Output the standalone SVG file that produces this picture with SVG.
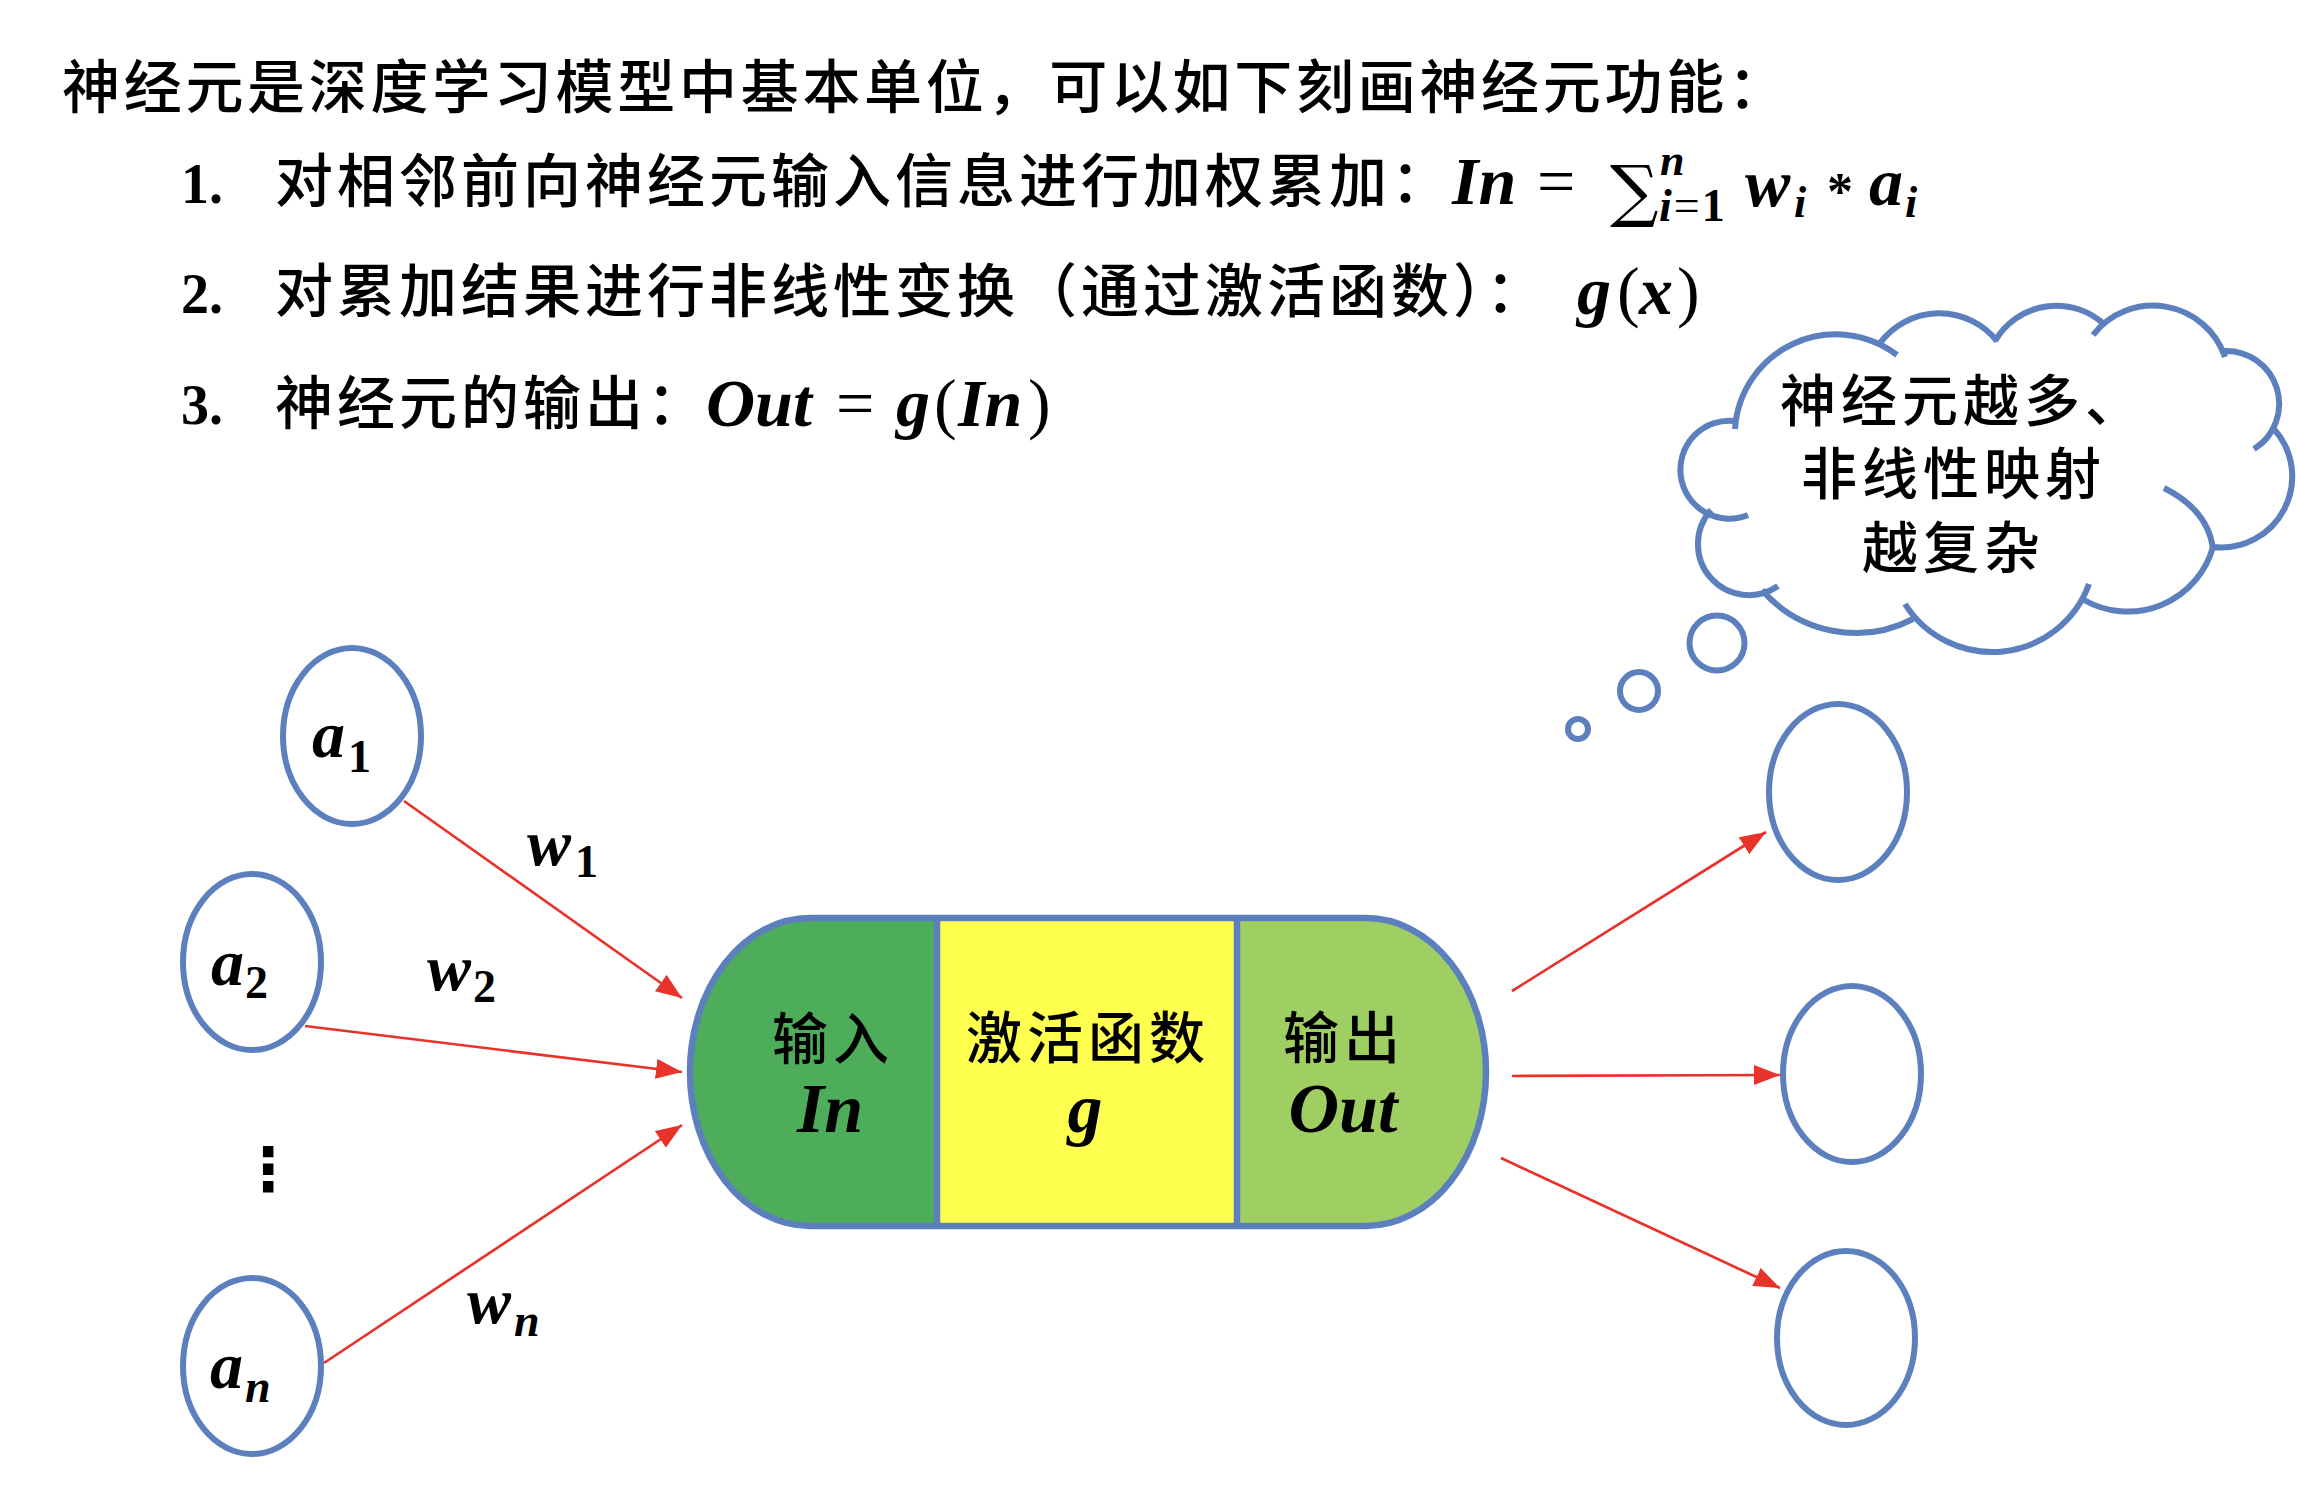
<svg xmlns="http://www.w3.org/2000/svg" width="2298" height="1492" viewBox="0 0 2298 1492">
<style>
.cjk{font-family:"Noto Sans CJK SC","Noto Sans CJK JP",sans-serif;font-weight:500;fill:#000}
.m{font-family:"Liberation Serif",serif;font-weight:bold;font-style:italic;fill:#000}
.r{font-family:"Liberation Serif",serif;font-weight:bold;font-style:normal;fill:#000}
.n{font-family:"Liberation Serif",serif;font-weight:normal;font-style:normal;fill:#000}
.node{fill:#fff;stroke:#5B80BD;stroke-width:6}
.cloud{fill:none;stroke:#5B80BD;stroke-width:6}
.arrow{stroke:#E8322A;stroke-width:2.7;fill:none;marker-end:url(#ah)}
</style>
<defs>
<marker id="ah" markerUnits="userSpaceOnUse" markerWidth="28" markerHeight="22" refX="26" refY="10" orient="auto">
<path d="M0,0 L26,10 L0,20 z" fill="#E8322A"/>
</marker>
<clipPath id="pillclip"><rect x="690" y="918" width="796" height="308" rx="120" ry="154"/></clipPath>
</defs>
<rect width="2298" height="1492" fill="#fff"/>

<g id="title">
<text class="cjk" x="62" y="108" font-size="58" letter-spacing="3.7">神经元是深度学习模型中基本单位，可以如下刻画神经元功能：</text>
<text class="r" x="181" y="203" font-size="56">1.</text>
<text class="cjk" x="275" y="202" font-size="58" letter-spacing="4">对相邻前向神经元输入信息进行加权累加：</text>
<text class="m" x="1452" y="204" font-size="68">In</text>
<text class="n" x="1537" y="204" font-size="68">=</text>
<text x="1610" y="214" font-family="DejaVu Serif" font-size="68">∑</text>
<text class="m" x="1660" y="175" font-size="44">n</text>
<text x="1659" y="221" font-size="46"><tspan class="m">i</tspan><tspan class="n" dx="2">=</tspan><tspan class="r" dx="2">1</tspan></text>
<text class="m" x="1745" y="206" font-size="68">w</text>
<text class="m" x="1794" y="217" font-size="44">i</text>
<text class="r" x="1827" y="209" font-size="52">*</text>
<text class="m" x="1869" y="205" font-size="68">a</text>
<text class="m" x="1905" y="217" font-size="44">i</text>

<text class="r" x="181" y="313" font-size="56">2.</text>
<text class="cjk" x="275" y="312" font-size="58" letter-spacing="4">对累加结果进行非线性变换（通过激活函数）：</text>
<text class="m" x="1577" y="314" font-size="68">g</text>
<text class="n" x="1617" y="314" font-size="68">(</text>
<text class="m" x="1639" y="314" font-size="68">x</text>
<text class="n" x="1677" y="314" font-size="68">)</text>

<text class="r" x="181" y="424" font-size="56">3.</text>
<text class="cjk" x="275" y="424" font-size="58" letter-spacing="4">神经元的输出：</text>
<text class="m" x="706" y="426" font-size="68">Out</text>
<text class="n" x="836" y="426" font-size="68">=</text>
<text class="m" x="896" y="426" font-size="68">g</text>
<text class="n" x="934" y="426" font-size="68">(</text>
<text class="m" x="958" y="426" font-size="68">In</text>
<text class="n" x="1028" y="426" font-size="68">)</text>
</g>

<g id="connectors">
<line class="arrow" x1="404" y1="801" x2="682" y2="998"/>
<line class="arrow" x1="305" y1="1026" x2="682" y2="1072"/>
<line class="arrow" x1="324" y1="1363" x2="682" y2="1125"/>
<line class="arrow" x1="1512" y1="991" x2="1766" y2="832"/>
<line class="arrow" x1="1512" y1="1076" x2="1780" y2="1075"/>
<line class="arrow" x1="1501" y1="1158" x2="1780" y2="1288"/>
</g>

<g id="weights">
<text class="m" x="527" y="865" font-size="66">w</text>
<text class="r" x="575" y="877" font-size="46">1</text>
<text class="m" x="427" y="990" font-size="66">w</text>
<text class="r" x="473" y="1002" font-size="46">2</text>
<text class="m" x="467" y="1323" font-size="66">w</text>
<text class="m" x="514" y="1336" font-size="46">n</text>
</g>

<g id="a1">
<ellipse class="node" cx="352" cy="736" rx="69" ry="88"/>
<text class="m" x="312" y="757" font-size="66">a</text>
<text class="r" x="348" y="772" font-size="46">1</text>
</g>
<g id="a2">
<ellipse class="node" cx="252" cy="962" rx="69" ry="88"/>
<text class="m" x="211" y="985" font-size="66">a</text>
<text class="r" x="245" y="998" font-size="46">2</text>
</g>
<g id="dots">
<text x="268" y="1190" text-anchor="middle" font-family="DejaVu Sans" font-weight="bold" font-size="60">⋮</text>
</g>
<g id="an">
<ellipse class="node" cx="252" cy="1366" rx="69" ry="88"/>
<text class="m" x="210" y="1388" font-size="66">a</text>
<text class="m" x="245" y="1402" font-size="46">n</text>
</g>

<g id="neuron">
<g clip-path="url(#pillclip)">
<rect x="680" y="910" width="257" height="325" fill="#4EAD5B"/>
<rect x="937" y="910" width="300" height="325" fill="#FFFF50"/>
<rect x="1237" y="910" width="260" height="325" fill="#9FCF63"/>
</g>
<rect x="690" y="918" width="796" height="308" rx="120" ry="154" fill="none" stroke="#5B80BD" stroke-width="6.5"/>
<line x1="937" y1="918" x2="937" y2="1226" stroke="#5B80BD" stroke-width="6.5"/>
<line x1="1237" y1="918" x2="1237" y2="1226" stroke="#5B80BD" stroke-width="6.5"/>
<text class="cjk" x="772" y="1059" font-size="56" letter-spacing="5">输入</text>
<text class="m" x="830" y="1132" font-size="70" text-anchor="middle">In</text>
<text class="cjk" x="966" y="1058" font-size="56" letter-spacing="5">激活函数</text>
<text class="m" x="1085" y="1132" font-size="70" text-anchor="middle">g</text>
<text class="cjk" x="1283" y="1058" font-size="56" letter-spacing="5">输出</text>
<text class="m" x="1343" y="1132" font-size="70" text-anchor="middle">Out</text>
</g>

<g id="out1"><ellipse class="node" cx="1838" cy="792" rx="69" ry="88"/></g>
<g id="out2"><ellipse class="node" cx="1852" cy="1074" rx="69" ry="88"/></g>
<g id="out3"><ellipse class="node" cx="1846" cy="1338" rx="69" ry="87"/></g>

<g id="cloud">
<path class="cloud" d="M1735,429 A101,101 0 0 1 1897,355 M1880,343 A74,74 0 0 1 1997,341 M1995,341 A71,71 0 0 1 2105,325 M2093,335 A76,76 0 0 1 2225,357 M2223,351 A53,53 0 0 1 2254,449 M2274,429 A71,71 0 0 1 2213,547 M2164,488 Q2208,510 2213,549 M2213,547 A88.5,88.5 0 0 1 2084,600 M2089,584 A103,103 0 0 1 1905,604 M1913,619 A124,124 0 0 1 1762,590 M1778,586 A51,51 0 0 1 1711,510 M1748,515 A49,49 0 1 1 1735,421"/>
<circle class="cloud" cx="1717" cy="643" r="27.5"/>
<circle class="cloud" cx="1639" cy="691" r="19"/>
<circle class="cloud" cx="1578" cy="729" r="10"/>
<text class="cjk" x="1780" y="421" font-size="56" letter-spacing="5">神经元越多、</text>
<text class="cjk" x="1801" y="494" font-size="56" letter-spacing="5">非线性映射</text>
<text class="cjk" x="1862" y="568" font-size="56" letter-spacing="5">越复杂</text>
</g>
</svg>
